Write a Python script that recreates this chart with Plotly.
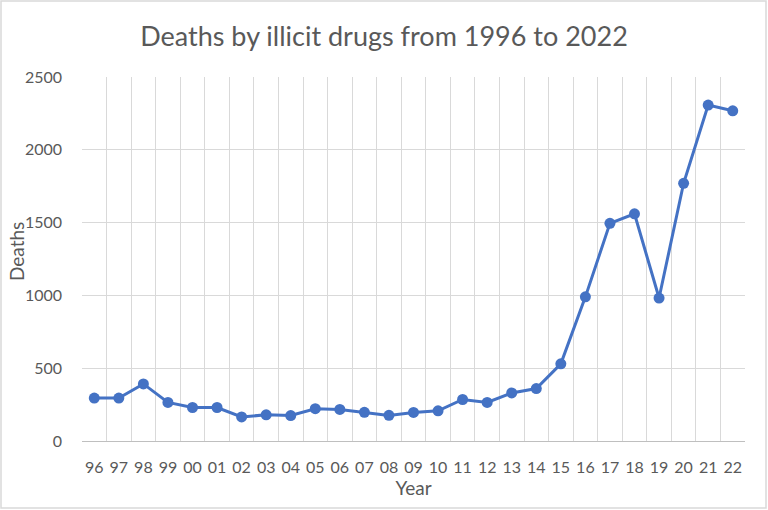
import plotly.graph_objects as go

years = ["96", "97", "98", "99", "00", "01", "02", "03", "04", "05", "06", "07", "08",
         "09", "10", "11", "12", "13", "14", "15", "16", "17", "18", "19", "20", "21", "22"]
deaths = [295, 295, 392, 265, 230, 230, 165, 180, 175, 222, 217, 197, 176,
          196, 207, 285, 265, 330, 360, 530, 990, 1495, 1560, 982, 1770, 2307, 2268]

W, H = 768, 510
ml, mr, mt, mb = 82, 23, 77, 69
pw, ph = W - ml - mr, H - mt - mb

fig = go.Figure()
fig.add_trace(go.Scatter(x=years, y=deaths, mode="lines+markers",
                         line=dict(color="#4472C4", width=3),
                         marker=dict(color="#4472C4", size=11),
                         showlegend=False))

fig.update_layout(
    width=W, height=H,
    margin=dict(l=ml, r=mr, t=mt, b=mb),
    paper_bgcolor="white", plot_bgcolor="white",
    font=dict(family="Lato, Noto Sans, sans-serif", color="#595959", size=16),
    title=dict(text="Deaths by illicit drugs from 1996 to 2022", x=0.5, xanchor="center",
               y=1 - 37 / H, yanchor="middle",
               font=dict(size=27, color="#595959")),
    xaxis=dict(type="category", range=[-0.5, 26.5], tickson="boundaries",
               showgrid=True, gridcolor="#D9D9D9", gridwidth=1,
               ticks="", showline=True, linecolor="#BFBFBF", linewidth=1,
               ticklabelstandoff=12, tickangle=0, automargin=False,
               title=dict(text="Year", font=dict(size=19), standoff=0),
               tickfont=dict(size=16)),
    yaxis=dict(range=[0, 2500], dtick=500, showgrid=True, gridcolor="#D9D9D9",
               zeroline=False, showline=False, ticks="",
               ticklabelstandoff=19, automargin=False,
               tickfont=dict(size=16)),
    annotations=[dict(text="Deaths", textangle=-90, showarrow=False,
                      xref="paper", yref="paper",
                      x=(17 - ml) / pw, y=(H - mb - 252) / ph,
                      xanchor="center", yanchor="middle",
                      font=dict(size=19, color="#595959"))],
    shapes=[dict(type="rect", xref="paper", yref="paper",
                 x0=-(ml - 1) / pw, x1=1 + (mr - 2) / pw,
                 y0=-(mb - 2) / ph, y1=1 + (mt - 1) / ph,
                 line=dict(color="#D9D9D9", width=1.5))],
)

fig.write_html("out.html", config={"displayModeBar": False},
               post_script="document.body.style.margin='0';document.body.style.overflow='hidden';")
